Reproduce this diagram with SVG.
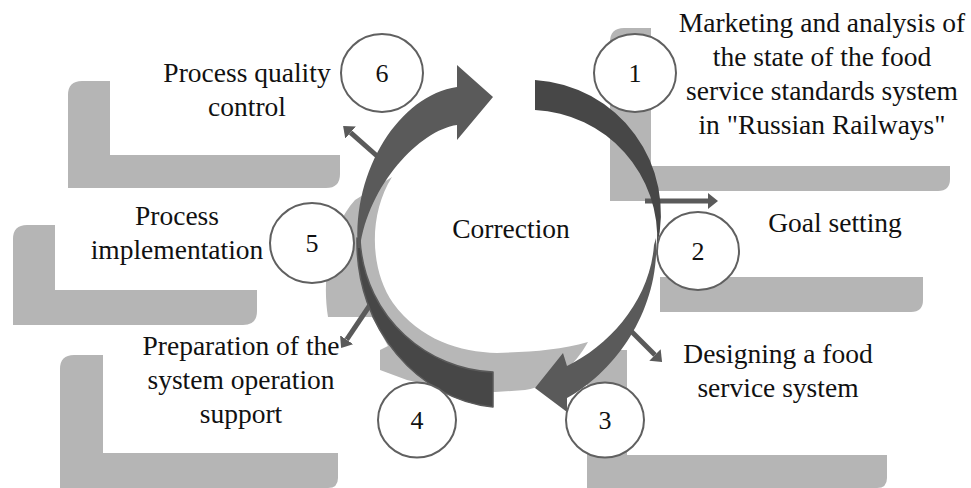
<svg xmlns="http://www.w3.org/2000/svg" width="971" height="488" viewBox="0 0 971 488">
  <style>
    .panel { fill: #b5b5b5; }
    .shade { fill: #b7b7b7; }
    .dark { fill: #474747; }
    .edged { stroke: #5a5a5a; stroke-width: 1.5; stroke-linejoin: round; }
    .mid { fill: #5a5a5a; }
    .ptr { stroke: #5a5a5a; stroke-width: 5; fill: none; marker-end: url(#head); }
    .badge { fill: #ffffff; stroke: #606060; stroke-width: 2; }
    .num { font-family: "Liberation Serif", "Times New Roman", serif; font-size: 26px; fill: #111; text-anchor: middle; }
    .label { font-family: "Liberation Serif", "Times New Roman", serif; font-size: 27.5px; fill: #111; text-anchor: middle; }
  </style>
  <defs>
    <marker id="head" viewBox="0 0 10 16" refX="0" refY="8" markerWidth="10" markerHeight="16" markerUnits="userSpaceOnUse" orient="auto">
      <path d="M0,0 L10,8 L0,16 Z" fill="#5a5a5a"/>
    </marker>
  </defs>

  <rect width="971" height="488" fill="#ffffff"/>

  <!-- backing L-shaped panels -->
  <g id="panels">
    <path class="panel" d="M68,95 Q68,81 82,81 L110,81 L110,155 L340,155 L340,174 Q340,188 326,188 L68,188 Z"/>
    <path class="panel" d="M13,239 Q13,225 27,225 L55,225 L55,290 L257,290 L257,311 Q257,325 243,325 L13,325 Z"/>
    <path class="panel" d="M60,369 Q60,355 74,355 L103,355 L103,453 L338,453 L338,478 Q338,488 328,488 L60,488 Z"/>
    <path class="panel" d="M610,42 Q610,28 624,28 L651,28 L651,166 L950,166 L950,179 Q950,191 938,191 L651,191 L651,201 L610,201 Z"/>
    <path class="panel" d="M660,277 L923,277 L923,300 Q923,312 911,312 L660,312 Z"/>
    <path class="panel" d="M587,364 Q587,350 601,350 L627,350 L627,455 L887,455 L887,478 Q887,488 877,488 L587,488 Z"/>
  </g>

  <!-- shaded band under the cycle -->
  <path id="cycle-shade" class="shade" d="M392,177 C368,215 370,270 393,303 C420,340 460,352 497,353 C530,352 560,350 588,342 C575,365 555,385 525,390 L495,392 L450,390 L407,380 L380,370 L380,350 L388,346 L372,317 L328,317 C322,280 328,230 355,200 Z"/>

  <g id="connectors">
    <!-- side pointers -->
    <line class="ptr" x1="645" y1="201" x2="708" y2="201"/>
    <line class="ptr" x1="625" y1="325" x2="655" y2="355"/>
    <line class="ptr" x1="372" y1="302" x2="346.7" y2="339.7"/>
    <line class="ptr" x1="385" y1="163" x2="350.6" y2="132.6"/>

    <!-- cycle arrows -->
    <path class="dark" d="M535,80 A134,134 0 0 1 657,246 A128,128 0 0 0 535,110 Z"/>
    <path class="mid" d="M656,238 C660,310 615,372 567,398 L567,412 L535,388 L563,353 L567,366 C610,345 650,300 654,245 Z"/>
    <path class="dark edged" d="M357,238 C355,330 420,400 493,407 L493,372 C430,370 365,320 360,240 Z"/>
    <path class="mid" d="M358,248 C352,170 400,95 457,87 L457,65 L493,97 L457,140 L457,125 C420,130 368,185 360,248 Z"/>
  </g>

  <g id="center">
    <text class="label" x="511" y="238">Correction</text>
  </g>

  <g id="step1">
    <ellipse class="badge" cx="635" cy="73" rx="41" ry="39"/>
    <text class="num" x="635" y="82">1</text>
    <text class="label" x="822" y="32">Marketing and analysis of</text>
    <text class="label" x="822" y="66">the state of the food</text>
    <text class="label" x="822" y="100">service standards system</text>
    <text class="label" x="822" y="134">in "Russian Railways"</text>
  </g>

  <g id="step2">
    <ellipse class="badge" cx="698" cy="251" rx="41" ry="39"/>
    <text class="num" x="698" y="260">2</text>
    <text class="label" x="835" y="232">Goal setting</text>
  </g>

  <g id="step3">
    <ellipse class="badge" cx="605" cy="420" rx="39" ry="37.5"/>
    <text class="num" x="605" y="429">3</text>
    <text class="label" x="778" y="363">Designing a food</text>
    <text class="label" x="778" y="397">service system</text>
  </g>

  <g id="step4">
    <ellipse class="badge" cx="417" cy="420" rx="39" ry="37.5"/>
    <text class="num" x="417" y="429">4</text>
    <text class="label" x="241" y="355">Preparation of the</text>
    <text class="label" x="241" y="389">system operation</text>
    <text class="label" x="241" y="423">support</text>
  </g>

  <g id="step5">
    <ellipse class="badge" cx="312" cy="243" rx="42" ry="40"/>
    <text class="num" x="312" y="252">5</text>
    <text class="label" x="177" y="225">Process</text>
    <text class="label" x="177" y="259">implementation</text>
  </g>

  <g id="step6">
    <ellipse class="badge" cx="382" cy="73" rx="41" ry="39"/>
    <text class="num" x="382" y="82">6</text>
    <text class="label" x="247" y="82">Process quality</text>
    <text class="label" x="247" y="116">control</text>
  </g>
</svg>
